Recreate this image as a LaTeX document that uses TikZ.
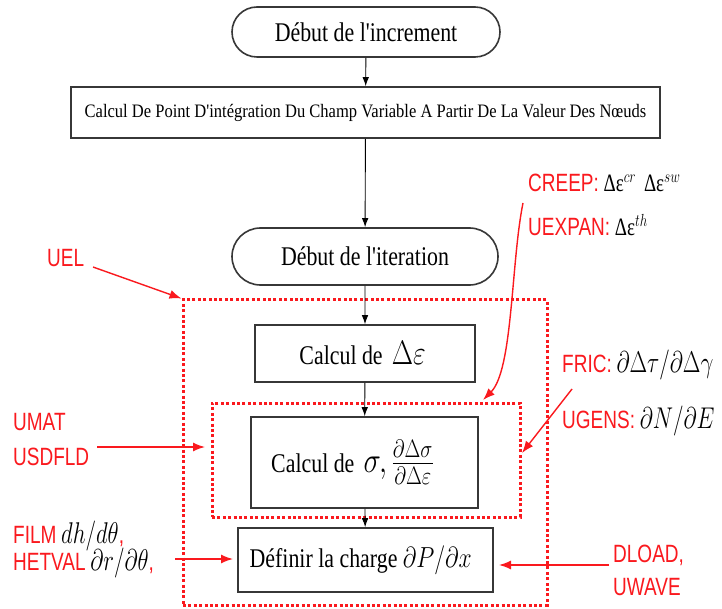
\RequirePackage{fix-cm}
\documentclass[tikz,border=0pt]{standalone}
\usepackage{fontspec}
\setmainfont{Liberation Serif}
\setsansfont{Liberation Sans}
\usetikzlibrary{arrows.meta,shapes.misc}

\definecolor{hred}{RGB}{250,25,30}
\definecolor{boxline}{RGB}{55,55,55}

% horizontally condensed text
\newcommand\sqz[2]{\scalebox{#1}[1]{#2}}
\newcommand\boxtxt[1]{\sqz{0.81}{\fontsize{27}{30}\selectfont #1}}
\newcommand\lbl[1]{\sqz{0.76}{\fontsize{25}{28}\selectfont #1}}
\newcommand\rt[1]{\textcolor{hred}{\sffamily #1}}
\newcommand\lm[1]{{\fontsize{30}{32}\selectfont$#1$}}
\newcommand\ap{\textquotesingle}

\tikzset{
  flowbox/.style={draw=boxline, line width=1.6pt, fill=white, inner sep=0pt, align=center},
  termbox/.style={flowbox, rounded rectangle},
  redzone/.style={draw=hred, line width=3pt, dash pattern=on 3pt off 2.4pt, inner sep=0pt},
  flowarrow/.style={draw=black, line width=0.9pt, -{Latex[length=9pt,width=6.5pt]}},
  hookarrow/.style={draw=hred, line width=1.4pt, -{Latex[length=12pt,width=9pt]}},
  tag/.style={inner sep=0pt, anchor=base west}
}

\begin{document}
\begin{tikzpicture}[x=1pt,y=-1pt]
  \fill[white] (0,0) rectangle (722,609);
  \useasboundingbox (0,0) rectangle (722,609);

  % procedure zones
  \node[redzone, minimum width=364pt, minimum height=305pt] (outer) at (365,452.5) {};
  \node[redzone, minimum width=308pt, minimum height=114pt] (inner) at (366,460) {};

  % flow chart boxes
  \node[termbox, minimum width=268pt, minimum height=50pt] (start) at (366,32)
    {\boxtxt{Début de l\ap increment}};
  \node[flowbox, minimum width=589pt, minimum height=51pt] (calc) at (365.5,112.5)
    {\sqz{0.87}{\fontsize{19}{22}\selectfont Calcul De Point D\ap intégration Du Champ Variable A Partir De La Valeur Des Nœuds}};
  \node[termbox, minimum width=266pt, minimum height=57pt] (iter) at (365,256.5)
    {\boxtxt{Début de l\ap iteration}};
  \node[flowbox, minimum width=220pt, minimum height=57pt] (deps) at (365,353.5)
    {\boxtxt{Calcul de\, {\fontsize{34}{36}\selectfont$\Delta\varepsilon$}\hspace{6pt}}};
  \node[flowbox, minimum width=227pt, minimum height=91pt] (sig) at (364.5,462.5)
    {\boxtxt{Calcul de\, {\fontsize{36}{38}\selectfont$\sigma,\frac{\partial\Delta\sigma}{\partial\Delta\varepsilon}$}\hspace{30pt}}};
  \node[flowbox, minimum width=255pt, minimum height=64pt] (load) at (365.5,560)
    {\boxtxt{Définir la charge {\fontsize{29}{32}\selectfont$\partial P/\partial x$}\hspace{12pt}}};

  % flow arrows
  \draw[flowarrow] (start) -- (calc);
  \draw[flowarrow] (calc) -- (iter);
  \draw[flowarrow] (iter) -- (deps);
  \draw[flowarrow] (deps) -- (sig);
  \draw[flowarrow] (sig) -- (load);

  % user subroutine labels
  \node[tag] (uel) at (47,267) {\lbl{\rt{UEL}}};
  \node[tag] (creep) at (528,192) {\lbl{\rt{CREEP:} Δε$^{cr}$\, Δε$^{sw}$}};
  \node[tag] (uexpan) at (528,236) {\lbl{\rt{UEXPAN:} Δε$^{th}$}};
  \node[tag] (fric) at (562,372) {\lbl{\rt{FRIC:} \lm{\partial\Delta\tau/\partial\Delta\gamma}}};
  \node[tag] (ugens) at (562,428) {\lbl{\rt{UGENS:} \lm{\partial N/\partial E}}};
  \node[tag] (umat) at (13,430) {\lbl{\rt{UMAT}}};
  \node[tag] (usdfld) at (13,465) {\lbl{\rt{USDFLD}}};
  \node[tag] (film) at (13,543) {\lbl{\rt{FILM} \lm{dh/d\theta}\rt{,}}};
  \node[tag] (hetval) at (13,570) {\lbl{\rt{HETVAL} \lm{\partial r/\partial\theta}\rt{,}}};
  \node[tag] (dload) at (613,562) {\lbl{\rt{DLOAD,}}};
  \node[tag] (uwave) at (613,595) {\lbl{\rt{UWAVE}}};

  % arrow ends
  \coordinate (uelS) at (93,267);
  \coordinate (umatS) at (97,447);
  \coordinate (umatT) at (205,447);
  \coordinate (creepS) at (523,203);
  \coordinate (creepT) at (483,400);
  \coordinate (fricS) at (572,389);
  \coordinate (fricT) at (522,453);
  \coordinate (filmS) at (175,559);
  \coordinate (filmT) at (233,559);
  \coordinate (dloadS) at (609,565);
  \coordinate (dloadT) at (499,565);

  % subroutine arrows
  \draw[hookarrow] (uelS) -- (outer.north west);
  \draw[hookarrow] (umatS) -- (umatT);
  \draw[hookarrow] (creepS) .. controls (511,262) and (513,370) .. (creepT);
  \draw[hookarrow] (fricS) -- (fricT);
  \draw[hookarrow] (filmS) -- (filmT);
  \draw[hookarrow] (dloadS) -- (dloadT);
\end{tikzpicture}
\end{document}
